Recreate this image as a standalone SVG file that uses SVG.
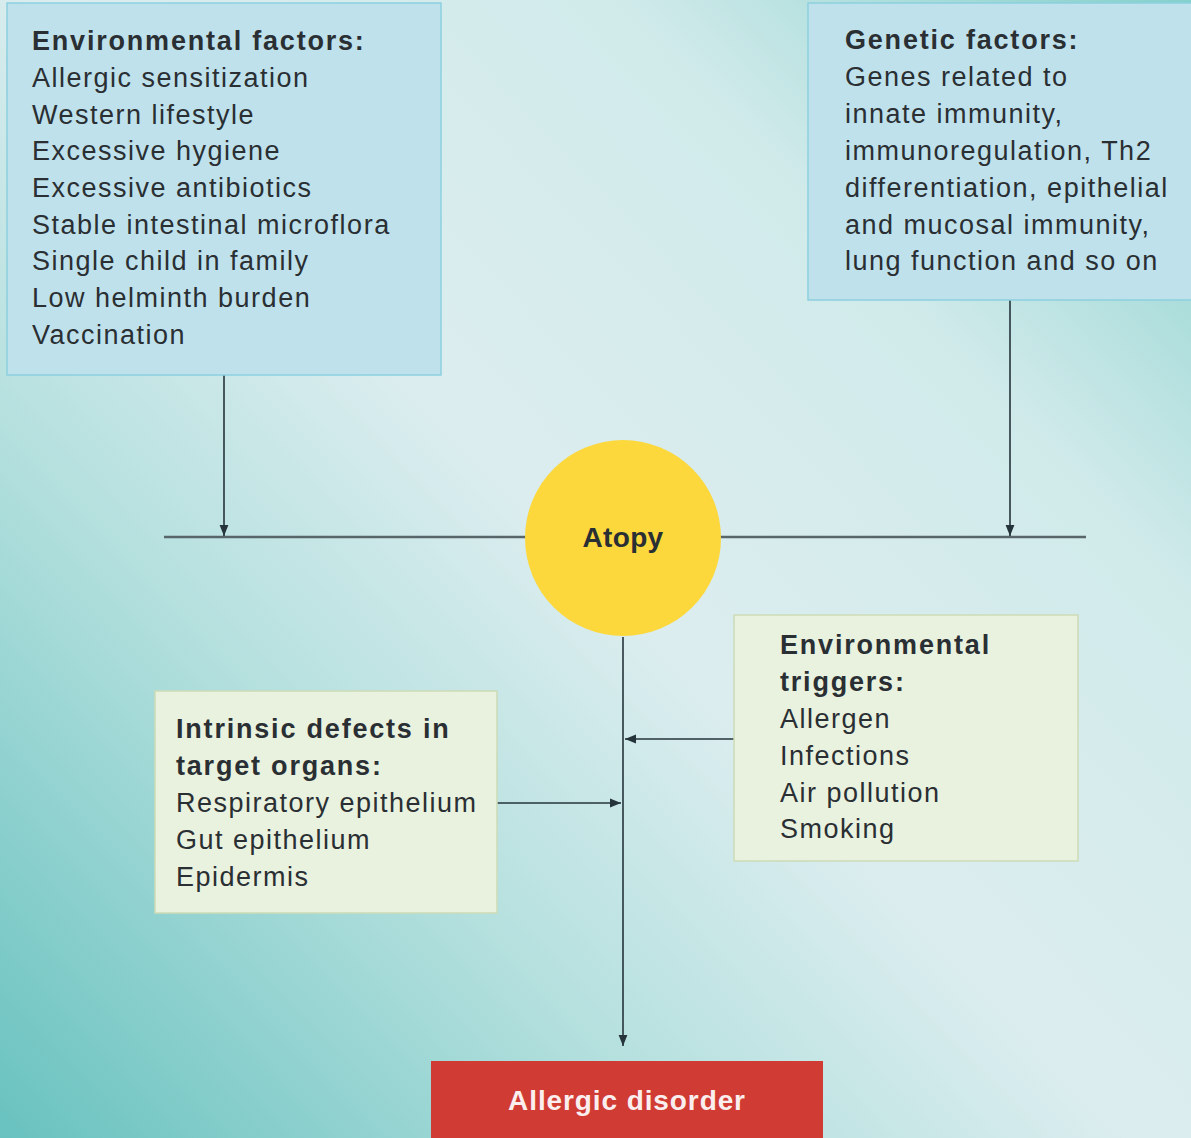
<svg xmlns="http://www.w3.org/2000/svg" width="1191" height="1138" viewBox="0 0 1191 1138">
<defs>
<linearGradient id="bg" x1="0" y1="1138" x2="1191" y2="0" gradientUnits="userSpaceOnUse">
<stop offset="0" stop-color="#68c2bf"/>
<stop offset="0.3" stop-color="#b4e0de"/>
<stop offset="0.5" stop-color="#dcedef"/>
<stop offset="0.75" stop-color="#d0eaea"/>
<stop offset="1" stop-color="#84d0cb"/>
</linearGradient>
<marker id="ah" viewBox="0 0 10 10" refX="10" refY="5" markerWidth="11" markerHeight="11" markerUnits="userSpaceOnUse" orient="auto">
<path d="M0,1 L10,5 L0,9 Z" fill="#25343a"/>
</marker>
<style>
.t{font-family:"Liberation Sans",Arial,sans-serif;font-size:27px;letter-spacing:1.5px;fill:#2a2f33}
.b{font-weight:bold;letter-spacing:1.8px}
.blue{fill:#bfe1eb;stroke:#8ccfe0;stroke-width:1.5}
.green{fill:#e9f1df;stroke:#cddbb6;stroke-width:1.5}
.c{stroke:#25343a;stroke-width:1.6;fill:none}
</style>
</defs>
<rect x="0" y="0" width="1191" height="1138" fill="url(#bg)"/>
<g id="connectors">
<line x1="164" y1="537" x2="1086" y2="537" stroke="#58666a" stroke-width="2.5"/>
<line class="c" x1="224" y1="375" x2="224" y2="536" marker-end="url(#ah)"/>
<line class="c" x1="1010" y1="300" x2="1010" y2="536" marker-end="url(#ah)"/>
<line class="c" x1="623" y1="637" x2="623" y2="1046" marker-end="url(#ah)"/>
<line class="c" x1="734" y1="739" x2="625" y2="739" marker-end="url(#ah)" stroke="#3f4f55" stroke-width="2.2"/>
<line class="c" x1="497" y1="803" x2="621" y2="803" marker-end="url(#ah)"/>
</g>
<g id="env-factors">
<rect class="blue" x="7" y="3" width="434" height="372"/>
<text class="t" x="32" y="50"><tspan class="b">Environmental factors:</tspan><tspan x="32" y="87">Allergic sensitization</tspan><tspan x="32" y="124">Western lifestyle</tspan><tspan x="32" y="160">Excessive hygiene</tspan><tspan x="32" y="197">Excessive antibiotics</tspan><tspan x="32" y="234">Stable intestinal microflora</tspan><tspan x="32" y="270">Single child in family</tspan><tspan x="32" y="307">Low helminth burden</tspan><tspan x="32" y="344">Vaccination</tspan></text>
</g>
<g id="genetic-factors">
<rect class="blue" x="808" y="3" width="390" height="297"/>
<text class="t" x="845" y="49"><tspan class="b">Genetic factors:</tspan><tspan x="845" y="86">Genes related to</tspan><tspan x="845" y="123">innate immunity,</tspan><tspan x="845" y="160">immunoregulation, Th2</tspan><tspan x="845" y="197">differentiation, epithelial</tspan><tspan x="845" y="234">and mucosal immunity,</tspan><tspan x="845" y="270">lung function and so on</tspan></text>
</g>
<g id="atopy">
<circle cx="623" cy="538" r="98" fill="#fcd83c"/>
<text class="t b" x="623" y="547" text-anchor="middle" style="font-size:28px;letter-spacing:0.3px">Atopy</text>
</g>
<g id="intrinsic-defects">
<rect class="green" x="155" y="691" width="342" height="222"/>
<text class="t" x="176" y="738"><tspan class="b">Intrinsic defects in</tspan><tspan class="b" x="176" y="775">target organs:</tspan><tspan x="176" y="812">Respiratory epithelium</tspan><tspan x="176" y="849">Gut epithelium</tspan><tspan x="176" y="886">Epidermis</tspan></text>
</g>
<g id="env-triggers">
<rect class="green" x="734" y="615" width="344" height="246"/>
<text class="t" x="780" y="654"><tspan class="b">Environmental</tspan><tspan class="b" x="780" y="691">triggers:</tspan><tspan x="780" y="728">Allergen</tspan><tspan x="780" y="765">Infections</tspan><tspan x="780" y="802">Air pollution</tspan><tspan x="780" y="838">Smoking</tspan></text>
</g>
<g id="allergic-disorder">
<rect x="431" y="1061" width="392" height="80" fill="#d03b33"/>
<text class="t b" x="627" y="1110" text-anchor="middle" style="fill:#fbeeee;font-size:28px;letter-spacing:0.9px">Allergic disorder</text>
</g>
</svg>
